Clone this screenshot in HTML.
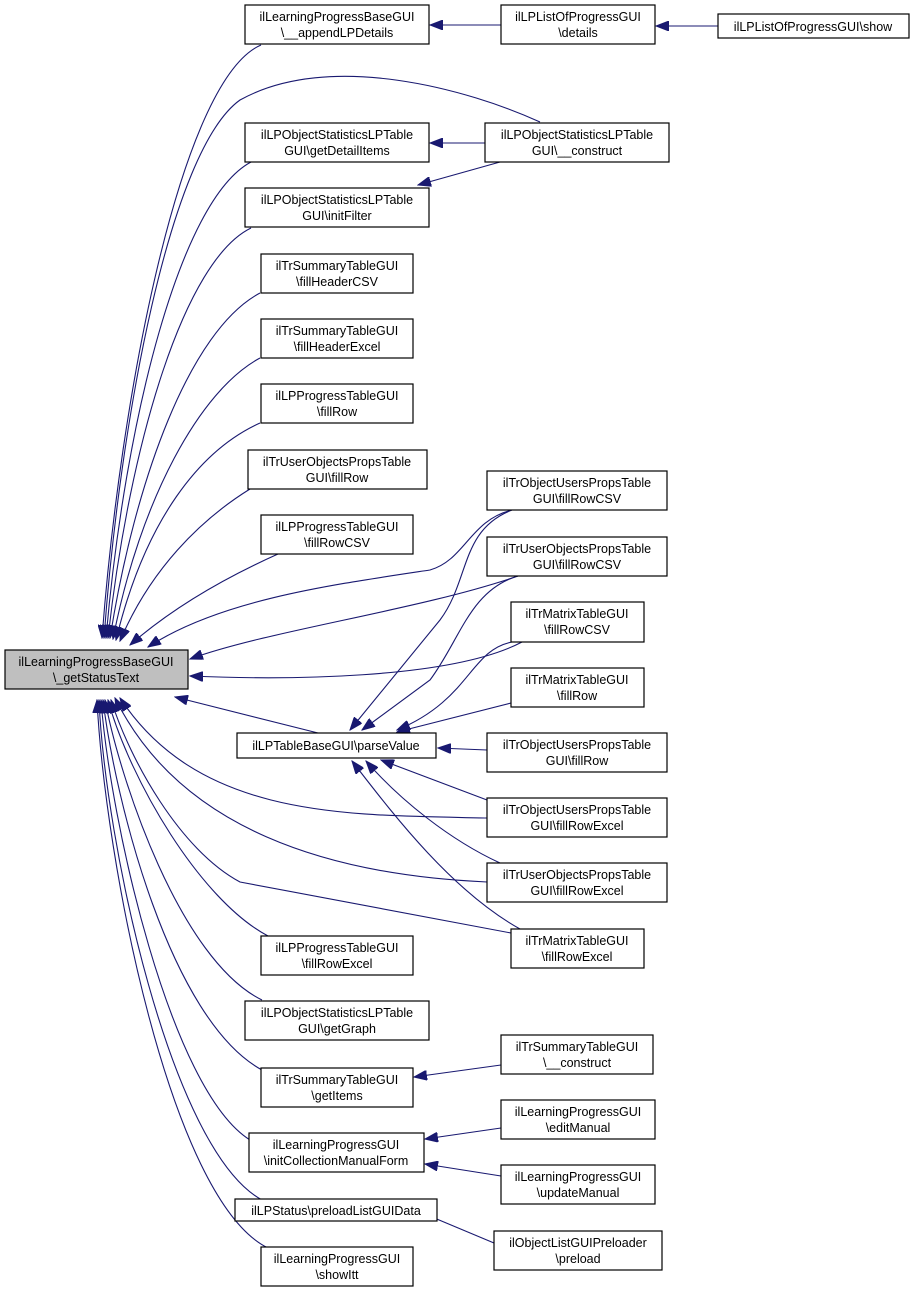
<!DOCTYPE html>
<html><head><meta charset="utf-8"><style>
html,body{margin:0;padding:0;background:#fff;}
svg{display:block;}
text{font-family:"Liberation Sans",Helvetica,Arial,sans-serif;font-size:12.5px;fill:#000;}
.n{fill:#fff;stroke:#000;stroke-width:1.2;}
.r{fill:#bfbfbf;stroke:#000;stroke-width:1.2;}
.e{fill:none;stroke:#191970;stroke-width:1.1;}
</style></head><body>
<svg width="915" height="1296" viewBox="0 0 915 1296" xmlns="http://www.w3.org/2000/svg">
<defs><marker id="a" markerUnits="userSpaceOnUse" markerWidth="14" markerHeight="10" refX="13" refY="5" orient="auto"><path d="M0,0 L13,5 L0,10 z" fill="#191970" stroke="#191970"/></marker></defs>
<g class="e" marker-end="url(#a)">
<path d="M261,45 C180,80 120,400 102,638"/>
<path d="M540,122 C470,90 330,50 240,100 C170,150 120,420 104,638"/>
<path d="M251,162 C180,200 125,420 106,638"/>
<path d="M251,228 C185,260 130,440 108,638"/>
<path d="M260,293 C190,330 135,480 110,638"/>
<path d="M260,358 C200,390 140,500 113,639"/>
<path d="M260,423 C200,450 145,520 116,640"/>
<path d="M250,489 C200,520 150,570 120,641"/>
<path d="M278,554 C220,580 170,610 130,645"/>
<path d="M512,510 C470,520 465,560 430,570 C330,585 220,600 148,647"/>
<path d="M518,576 C420,610 270,630 190,659"/>
<path d="M522,642 C450,680 280,680 190,676"/>
<path d="M322,734 L175,697"/>
<path d="M487,818 C350,815 200,820 120,698"/>
<path d="M487,882 C330,875 180,830 115,698"/>
<path d="M511,933 L240,882 C180,850 130,760 111,700"/>
<path d="M268,936 C200,900 130,780 108,700"/>
<path d="M262,1000 C180,960 120,780 105,700"/>
<path d="M262,1070 C170,1020 115,800 103,700"/>
<path d="M250,1140 C170,1090 110,820 101,700"/>
<path d="M262,1200 C170,1150 105,840 99,700"/>
<path d="M268,1248 C170,1200 105,860 97,700"/>
<path d="M512,510 C460,530 470,580 440,620 L350,730"/>
<path d="M518,576 C470,590 460,640 430,680 L362,730"/>
<path d="M512,642 C470,650 470,700 397,730"/>
<path d="M511,703 L397,732"/>
<path d="M487,750 L438,748"/>
<path d="M487,800 L381,760"/>
<path d="M500,863 C450,840 400,800 366,761"/>
<path d="M520,929 C450,890 390,810 352,761"/>
<path d="M501,25 L430,25"/>
<path d="M718,26 L656,26"/>
<path d="M485,143 L430,143"/>
<path d="M500,162 L418,185"/>
<path d="M501,1065 L414,1077"/>
<path d="M501,1128 L425,1139"/>
<path d="M501,1176 L425,1164"/>
<path d="M494,1243 L420,1212"/>
</g>
<g text-anchor="middle">
<rect class="r" x="5" y="650" width="183" height="39"/><text x="96" y="666">ilLearningProgressBaseGUI</text><text x="96" y="682">\_getStatusText</text>
<rect class="n" x="245" y="5" width="184" height="39"/><text x="337" y="21">ilLearningProgressBaseGUI</text><text x="337" y="37">\__appendLPDetails</text>
<rect class="n" x="245" y="123" width="184" height="39"/><text x="337" y="139">ilLPObjectStatisticsLPTable</text><text x="337" y="155">GUI\getDetailItems</text>
<rect class="n" x="245" y="188" width="184" height="39"/><text x="337" y="204">ilLPObjectStatisticsLPTable</text><text x="337" y="220">GUI\initFilter</text>
<rect class="n" x="261" y="254" width="152" height="39"/><text x="337" y="270">ilTrSummaryTableGUI</text><text x="337" y="286">\fillHeaderCSV</text>
<rect class="n" x="261" y="319" width="152" height="39"/><text x="337" y="335">ilTrSummaryTableGUI</text><text x="337" y="351">\fillHeaderExcel</text>
<rect class="n" x="261" y="384" width="152" height="39"/><text x="337" y="400">ilLPProgressTableGUI</text><text x="337" y="416">\fillRow</text>
<rect class="n" x="248" y="450" width="179" height="39"/><text x="337" y="466">ilTrUserObjectsPropsTable</text><text x="337" y="482">GUI\fillRow</text>
<rect class="n" x="261" y="515" width="152" height="39"/><text x="337" y="531">ilLPProgressTableGUI</text><text x="337" y="547">\fillRowCSV</text>
<rect class="n" x="237" y="733" width="199" height="25"/><text x="336" y="750">ilLPTableBaseGUI\parseValue</text>
<rect class="n" x="261" y="936" width="152" height="39"/><text x="337" y="952">ilLPProgressTableGUI</text><text x="337" y="968">\fillRowExcel</text>
<rect class="n" x="245" y="1001" width="184" height="39"/><text x="337" y="1017">ilLPObjectStatisticsLPTable</text><text x="337" y="1033">GUI\getGraph</text>
<rect class="n" x="261" y="1068" width="152" height="39"/><text x="337" y="1084">ilTrSummaryTableGUI</text><text x="337" y="1100">\getItems</text>
<rect class="n" x="249" y="1133" width="175" height="39"/><text x="336" y="1149">ilLearningProgressGUI</text><text x="336" y="1165">\initCollectionManualForm</text>
<rect class="n" x="235" y="1199" width="202" height="22"/><text x="336" y="1215">ilLPStatus\preloadListGUIData</text>
<rect class="n" x="261" y="1247" width="152" height="39"/><text x="337" y="1263">ilLearningProgressGUI</text><text x="337" y="1279">\showItt</text>
<rect class="n" x="501" y="5" width="154" height="39"/><text x="578" y="21">ilLPListOfProgressGUI</text><text x="578" y="37">\details</text>
<rect class="n" x="485" y="123" width="184" height="39"/><text x="577" y="139">ilLPObjectStatisticsLPTable</text><text x="577" y="155">GUI\__construct</text>
<rect class="n" x="487" y="471" width="180" height="39"/><text x="577" y="487">ilTrObjectUsersPropsTable</text><text x="577" y="503">GUI\fillRowCSV</text>
<rect class="n" x="487" y="537" width="180" height="39"/><text x="577" y="553">ilTrUserObjectsPropsTable</text><text x="577" y="569">GUI\fillRowCSV</text>
<rect class="n" x="511" y="602" width="133" height="40"/><text x="577" y="618">ilTrMatrixTableGUI</text><text x="577" y="634">\fillRowCSV</text>
<rect class="n" x="511" y="668" width="133" height="39"/><text x="577" y="684">ilTrMatrixTableGUI</text><text x="577" y="700">\fillRow</text>
<rect class="n" x="487" y="733" width="180" height="39"/><text x="577" y="749">ilTrObjectUsersPropsTable</text><text x="577" y="765">GUI\fillRow</text>
<rect class="n" x="487" y="798" width="180" height="39"/><text x="577" y="814">ilTrObjectUsersPropsTable</text><text x="577" y="830">GUI\fillRowExcel</text>
<rect class="n" x="487" y="863" width="180" height="39"/><text x="577" y="879">ilTrUserObjectsPropsTable</text><text x="577" y="895">GUI\fillRowExcel</text>
<rect class="n" x="511" y="929" width="133" height="39"/><text x="577" y="945">ilTrMatrixTableGUI</text><text x="577" y="961">\fillRowExcel</text>
<rect class="n" x="501" y="1035" width="152" height="39"/><text x="577" y="1051">ilTrSummaryTableGUI</text><text x="577" y="1067">\__construct</text>
<rect class="n" x="501" y="1100" width="154" height="39"/><text x="578" y="1116">ilLearningProgressGUI</text><text x="578" y="1132">\editManual</text>
<rect class="n" x="501" y="1165" width="154" height="39"/><text x="578" y="1181">ilLearningProgressGUI</text><text x="578" y="1197">\updateManual</text>
<rect class="n" x="494" y="1231" width="168" height="39"/><text x="578" y="1247">ilObjectListGUIPreloader</text><text x="578" y="1263">\preload</text>
<rect class="n" x="718" y="14" width="191" height="24"/><text x="813" y="31">ilLPListOfProgressGUI\show</text>
</g>
</svg>
</body></html>
